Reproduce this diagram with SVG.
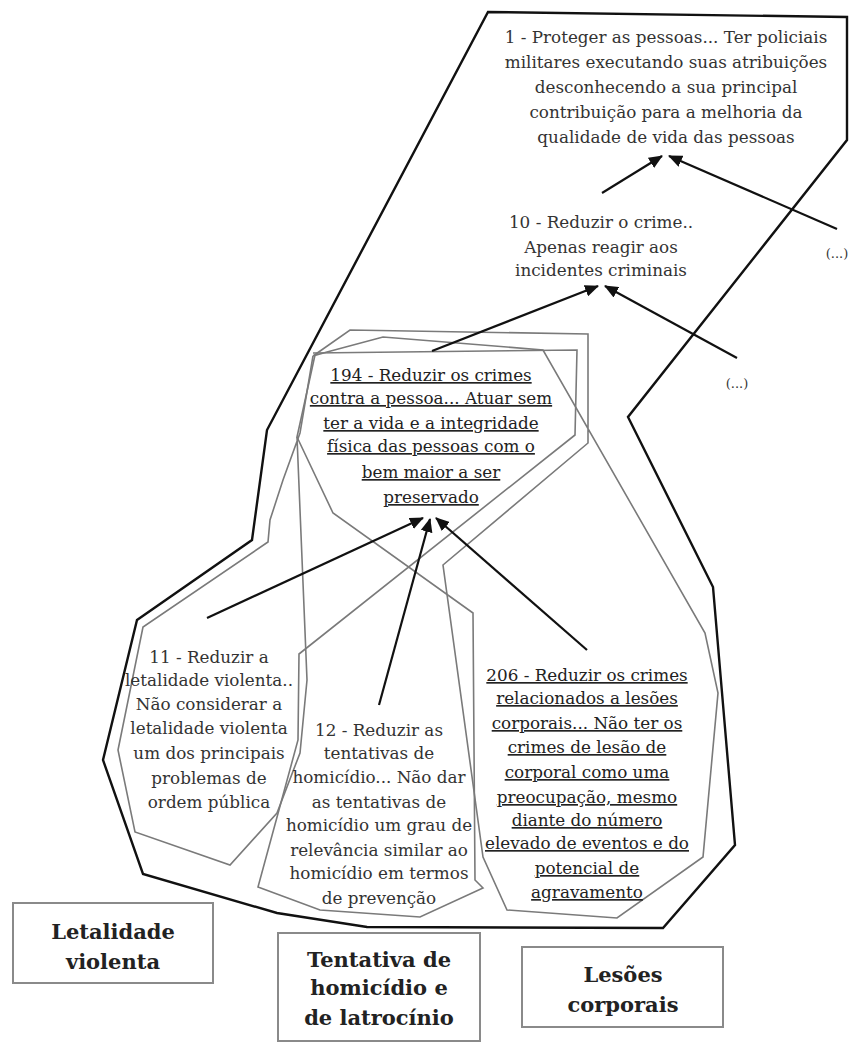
<svg xmlns="http://www.w3.org/2000/svg" width="850" height="1043" viewBox="0 0 850 1043">
  <style>
    .t { font-family: "DejaVu Serif", "Liberation Serif", serif; font-size: 16.8px; fill: #333; text-anchor: middle; }
    .u { text-decoration: underline; fill: #222; }
    .s { font-size: 13px; }
    .b { font-family: "DejaVu Serif", "Liberation Serif", serif; font-size: 21px; font-weight: bold; fill: #222; text-anchor: middle; }
    .outer { fill: none; stroke: #111; stroke-width: 2.4; stroke-linejoin: miter; }
    .grp { fill: none; stroke: #7a7a7a; stroke-width: 1.6; stroke-linejoin: miter; }
    .box { fill: #fff; stroke: #8a8a8a; stroke-width: 2; }
    .arrow { stroke: #111; stroke-width: 2.2; fill: none; marker-end: url(#head); }
  </style>
  <defs>
    <marker id="head" markerUnits="userSpaceOnUse" markerWidth="14" markerHeight="12" refX="13" refY="6" orient="auto">
      <path d="M0,0 L14,6 L0,12 z" fill="#111"/>
    </marker>
  </defs>
  <rect width="850" height="1043" fill="#fff"/>

  <!-- outer boundary -->
  <g id="boundary">
    <path class="outer" d="M488,12 L847,17 L847,140 L628,417 L713,587 L735,845 L663,928 L367,927 L277,913 L143,874 L103,760 L137,620 L252,540 L267,430 Z"/>
  </g>

  <!-- category regions -->
  <g id="region-lesoes">
    <path class="grp" d="M313,356 L350,330 L588,334 L588,443 L443,565 L483,857 L507,910 L617,918 L703,857 L718,693 L705,633 L543,350 L383,337 L327,352 L313,356"/>
  </g>
  <g id="region-tentativa">
    <path class="grp" d="M313,353 L577,350 L575,435 L299,654 L298,740 L258,887 L320,910 L420,917 L483,888 L475,880 L473,613 L333,513 L297,437 L315,355"/>
  </g>
  <g id="region-letalidade">
    <path class="grp" d="M313,356 L300,433 L283,480 L270,520 L268,542 L143,627 L118,750 L135,832 L230,865 L277,813 L300,753 L307,680 L297,437"/>
  </g>

  <!-- connectors -->
  <g id="connectors">
    <line class="arrow" x1="602" y1="193" x2="662" y2="156"/>
    <line class="arrow" x1="837" y1="229" x2="669" y2="156"/>
    <line class="arrow" x1="432" y1="351" x2="598" y2="286"/>
    <line class="arrow" x1="737" y1="358" x2="605" y2="286"/>
    <line class="arrow" x1="207" y1="618" x2="423" y2="518"/>
    <line class="arrow" x1="379" y1="705" x2="430" y2="519"/>
    <line class="arrow" x1="587" y1="650" x2="436" y2="518"/>
  </g>

  <g id="node-1">
    <text class="t" x="666" y="43">1 - Proteger as pessoas... Ter policiais</text>
    <text class="t" x="666" y="68">militares executando suas atribuições</text>
    <text class="t" x="666" y="93">desconhecendo a sua principal</text>
    <text class="t" x="666" y="118">contribuição para a melhoria da</text>
    <text class="t" x="666" y="143">qualidade de vida das pessoas</text>
  </g>

  <g id="node-10">
    <text class="t" x="601" y="228">10 - Reduzir o crime..</text>
    <text class="t" x="601" y="253">Apenas reagir aos</text>
    <text class="t" x="601" y="276">incidentes criminais</text>
  </g>

  <g id="node-more-1">
    <text class="t s" x="837" y="258">(...)</text>
  </g>
  <g id="node-more-2">
    <text class="t s" x="737" y="388">(...)</text>
  </g>

  <g id="node-194">
    <text class="t u" x="431" y="381">194 - Reduzir os crimes</text>
    <text class="t u" x="431" y="404">contra a pessoa... Atuar sem</text>
    <text class="t u" x="431" y="429">ter a vida e a integridade</text>
    <text class="t u" x="431" y="452">física das pessoas com o</text>
    <text class="t u" x="431" y="478">bem maior a ser</text>
    <text class="t u" x="431" y="503">preservado</text>
  </g>

  <g id="node-11">
    <text class="t" x="209" y="663">11 - Reduzir a</text>
    <text class="t" x="209" y="686">letalidade violenta..</text>
    <text class="t" x="209" y="710">Não considerar a</text>
    <text class="t" x="209" y="734">letalidade violenta</text>
    <text class="t" x="209" y="759">um dos principais</text>
    <text class="t" x="209" y="784">problemas de</text>
    <text class="t" x="209" y="808">ordem pública</text>
  </g>

  <g id="node-12">
    <text class="t" x="379" y="736">12 - Reduzir as</text>
    <text class="t" x="379" y="759">tentativas de</text>
    <text class="t" x="379" y="783">homicídio... Não dar</text>
    <text class="t" x="379" y="808">as tentativas de</text>
    <text class="t" x="379" y="831">homicídio um grau de</text>
    <text class="t" x="379" y="856">relevância similar ao</text>
    <text class="t" x="379" y="879">homicídio em termos</text>
    <text class="t" x="379" y="904">de prevenção</text>
  </g>

  <g id="node-206">
    <text class="t u" x="587" y="681">206 - Reduzir os crimes</text>
    <text class="t u" x="587" y="704">relacionados a lesões</text>
    <text class="t u" x="587" y="729">corporais... Não ter os</text>
    <text class="t u" x="587" y="753">crimes de lesão de</text>
    <text class="t u" x="587" y="778">corporal como uma</text>
    <text class="t u" x="587" y="803">preocupação, mesmo</text>
    <text class="t u" x="587" y="826">diante do número</text>
    <text class="t u" x="587" y="849">elevado de eventos e do</text>
    <text class="t u" x="587" y="874">potencial de</text>
    <text class="t u" x="587" y="898">agravamento</text>
  </g>

  <g id="label-letalidade">
    <rect class="box" x="13" y="903" width="200" height="80"/>
    <text class="b" x="113" y="939">Letalidade</text>
    <text class="b" x="113" y="969">violenta</text>
  </g>
  <g id="label-tentativa">
    <rect class="box" x="278" y="933" width="202" height="108"/>
    <text class="b" x="379" y="967">Tentativa de</text>
    <text class="b" x="379" y="995">homicídio e</text>
    <text class="b" x="379" y="1025">de latrocínio</text>
  </g>
  <g id="label-lesoes">
    <rect class="box" x="522" y="947" width="201" height="80"/>
    <text class="b" x="623" y="982">Lesões</text>
    <text class="b" x="623" y="1012">corporais</text>
  </g>
</svg>
